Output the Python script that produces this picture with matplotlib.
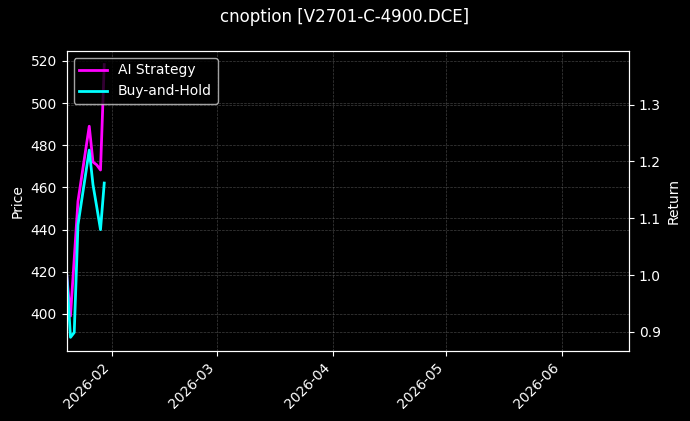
import matplotlib
matplotlib.use("Agg")
import matplotlib.pyplot as plt
import matplotlib.dates as mdates
import pandas as pd

dates = pd.to_datetime(["2026-01-20", "2026-01-21", "2026-01-22", "2026-01-23",
                        "2026-01-26", "2026-01-27", "2026-01-28", "2026-01-29",
                        "2026-01-30"])
ai_strategy = [1.000, 0.928, 1.029, 1.130, 1.262, 1.199, 1.194, 1.185, 1.3705]
buy_and_hold = [1.000, 0.8905, 0.899, 1.0885, 1.220, 1.159, 1.120, 1.080, 1.162]

title = "cnoption [V2701-C-4900.DCE]"
x_start = pd.Timestamp("2026-01-20 00:00")
x_end = pd.Timestamp("2026-06-18 20:00")
price_limits = (382.4, 524.7)

plt.style.use("dark_background")
fig, ax1 = plt.subplots(figsize=(6.9, 4.21), dpi=100)
fig.subplots_adjust(left=0.0967, right=0.9116, top=0.879, bottom=0.1663)

ax1.set_ylabel("Price")
ax1.set_ylim(*price_limits)
ax1.set_xlim(x_start, x_end)
ax1.grid(True, linestyle="--", linewidth=0.5, color="gray", alpha=0.5)

ax2 = ax1.twinx()
l1, = ax2.plot(dates, ai_strategy, color="magenta", linewidth=2, label="AI Strategy")
l2, = ax2.plot(dates, buy_and_hold, color="cyan", linewidth=2, label="Buy-and-Hold")
ax2.set_ylabel("Return")
ax2.grid(True, linestyle="--", linewidth=0.5, color="gray", alpha=0.5)
ax2.set_xlim(x_start, x_end)

ax1.xaxis.set_major_locator(mdates.MonthLocator())
ax1.xaxis.set_major_formatter(mdates.DateFormatter("%Y-%m"))
for lab in ax1.get_xticklabels():
    lab.set_rotation(45)
    lab.set_ha("right")

ax2.legend(loc="upper left")
fig.suptitle(title, fontsize=12)

fig.savefig("out.png", dpi=100)
